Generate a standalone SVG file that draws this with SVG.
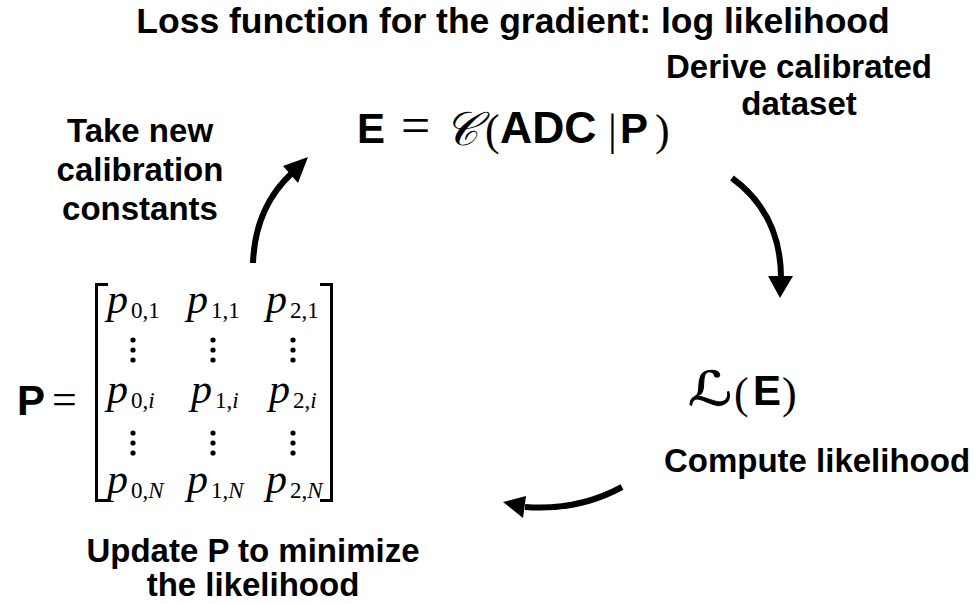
<svg xmlns="http://www.w3.org/2000/svg" width="980" height="604" viewBox="0 0 980 604">
  <style>
    .lbl { font-family: "Liberation Sans", Arial, sans-serif; font-weight: bold; font-size: 33px; fill: #000; text-anchor: middle; }
    .title { font-size: 35.5px; }
    .bsf { font-family: "Liberation Sans", Arial, sans-serif; font-weight: bold; font-size: 42px; fill: #000; }
    .rm { font-family: "Liberation Serif", "Times New Roman", serif; font-size: 44px; fill: #000; }
    .scr { font-family: "DejaVu Serif", "DejaVu Sans", serif; font-style: italic; font-size: 47px; fill: #000; }
    .scl { font-family: "DejaVu Sans", "DejaVu Serif", sans-serif; font-size: 47px; fill: #000; stroke: #000; stroke-width: 0.8; }
    .mi { font-family: "Liberation Serif", "Times New Roman", serif; font-style: italic; font-size: 42px; fill: #000; }
    .sub { font-family: "Liberation Serif", "Times New Roman", serif; font-style: normal; font-size: 23px; }
    .subi { font-style: italic; }
    .arc { fill: none; stroke: #000; stroke-width: 6; stroke-linecap: butt; }
    .head { fill: #000; }
    .brk { fill: none; stroke: #000; stroke-width: 3; }
  </style>

  <!-- headline -->
  <text class="lbl title" x="513" y="33">Loss function for the gradient: log likelihood</text>

  <!-- calibrated energy node -->
  <g id="node-energy">
    <text class="bsf" x="357" y="143">E</text>
    <text class="rm" x="401" y="143" style="font-size:52px">=</text>
    <text class="scr" x="444" y="145">𝒞</text>
    <text class="rm" x="485" y="145">(</text>
    <text class="bsf" x="500" y="143" style="font-size:44.5px">ADC</text>
    <text class="rm" x="608" y="145">|</text>
    <text class="bsf" x="620" y="143">P</text>
    <text class="rm" x="655" y="145">)</text>
  </g>

  <g id="node-derive">
    <text class="lbl" x="799" y="78">Derive calibrated</text>
    <text class="lbl" x="799" y="115">dataset</text>
  </g>

  <!-- likelihood node -->
  <g id="node-likelihood">
    <text class="scl" transform="translate(688,405) scale(1.3,1)" x="0" y="0">ℒ</text>
    <text class="rm" x="734" y="408">(</text>
    <text class="bsf" x="753" y="405">E</text>
    <text class="rm" x="782" y="408">)</text>
  </g>

  <g id="node-compute">
    <text class="lbl" x="817" y="472">Compute likelihood</text>
  </g>

  <!-- parameter matrix node -->
  <g id="node-matrix">
    <text class="bsf" x="17" y="415">P</text>
    <text class="rm" x="52" y="414">=</text>
    <path class="brk" d="M108,284.5 H96.5 V500.5 H108"/>
    <path class="brk" d="M320,284.5 H331.5 V500.5 H320"/>

    <text class="mi" x="107" y="313">p</text>
    <text class="sub" x="131" y="318">0,1</text>
    <text class="mi" x="187" y="313">p</text>
    <text class="sub" x="211" y="318">1,1</text>
    <text class="mi" x="266" y="313">p</text>
    <text class="sub" x="290" y="318">2,1</text>

    <text class="mi" x="107" y="403">p</text>
    <text class="sub" x="131" y="408">0,<tspan class="subi">i</tspan></text>
    <text class="mi" x="191" y="403">p</text>
    <text class="sub" x="215" y="408">1,<tspan class="subi">i</tspan></text>
    <text class="mi" x="269" y="403">p</text>
    <text class="sub" x="293" y="408">2,<tspan class="subi">i</tspan></text>

    <text class="mi" x="107" y="493">p</text>
    <text class="sub" x="131" y="498">0,<tspan class="subi">N</tspan></text>
    <text class="mi" x="187" y="493">p</text>
    <text class="sub" x="211" y="498">1,<tspan class="subi">N</tspan></text>
    <text class="mi" x="266" y="493">p</text>
    <text class="sub" x="290" y="498">2,<tspan class="subi">N</tspan></text>

    <g fill="#000">
      <circle cx="133" cy="340" r="2.6"/><circle cx="133" cy="350" r="2.6"/><circle cx="133" cy="360" r="2.6"/>
      <circle cx="213" cy="340" r="2.6"/><circle cx="213" cy="350" r="2.6"/><circle cx="213" cy="360" r="2.6"/>
      <circle cx="293" cy="340" r="2.6"/><circle cx="293" cy="350" r="2.6"/><circle cx="293" cy="360" r="2.6"/>
      <circle cx="133" cy="433" r="2.6"/><circle cx="133" cy="443" r="2.6"/><circle cx="133" cy="453" r="2.6"/>
      <circle cx="213" cy="433" r="2.6"/><circle cx="213" cy="443" r="2.6"/><circle cx="213" cy="453" r="2.6"/>
      <circle cx="293" cy="433" r="2.6"/><circle cx="293" cy="443" r="2.6"/><circle cx="293" cy="453" r="2.6"/>
    </g>
  </g>

  <g id="node-take">
    <text class="lbl" x="140" y="142">Take new</text>
    <text class="lbl" x="140" y="181">calibration</text>
    <text class="lbl" x="140" y="220">constants</text>
  </g>

  <g id="node-update">
    <text class="lbl" x="253" y="562">Update P to minimize</text>
    <text class="lbl" x="253" y="596">the likelihood</text>
  </g>

  <!-- cycle arrows -->
  <g id="connectors">
    <path class="arc" d="M253,263 Q255,208 291,174"/>
    <polygon class="head" points="308,157 283,166 298,183"/>

    <path class="arc" d="M732,178 Q781,214 781,278"/>
    <polygon class="head" points="780,298 768,276 793,276"/>

    <path class="arc" d="M622,487 Q578,511 525,507"/>
    <polygon class="head" points="503,502 526,496 523,518"/>
  </g>
</svg>
